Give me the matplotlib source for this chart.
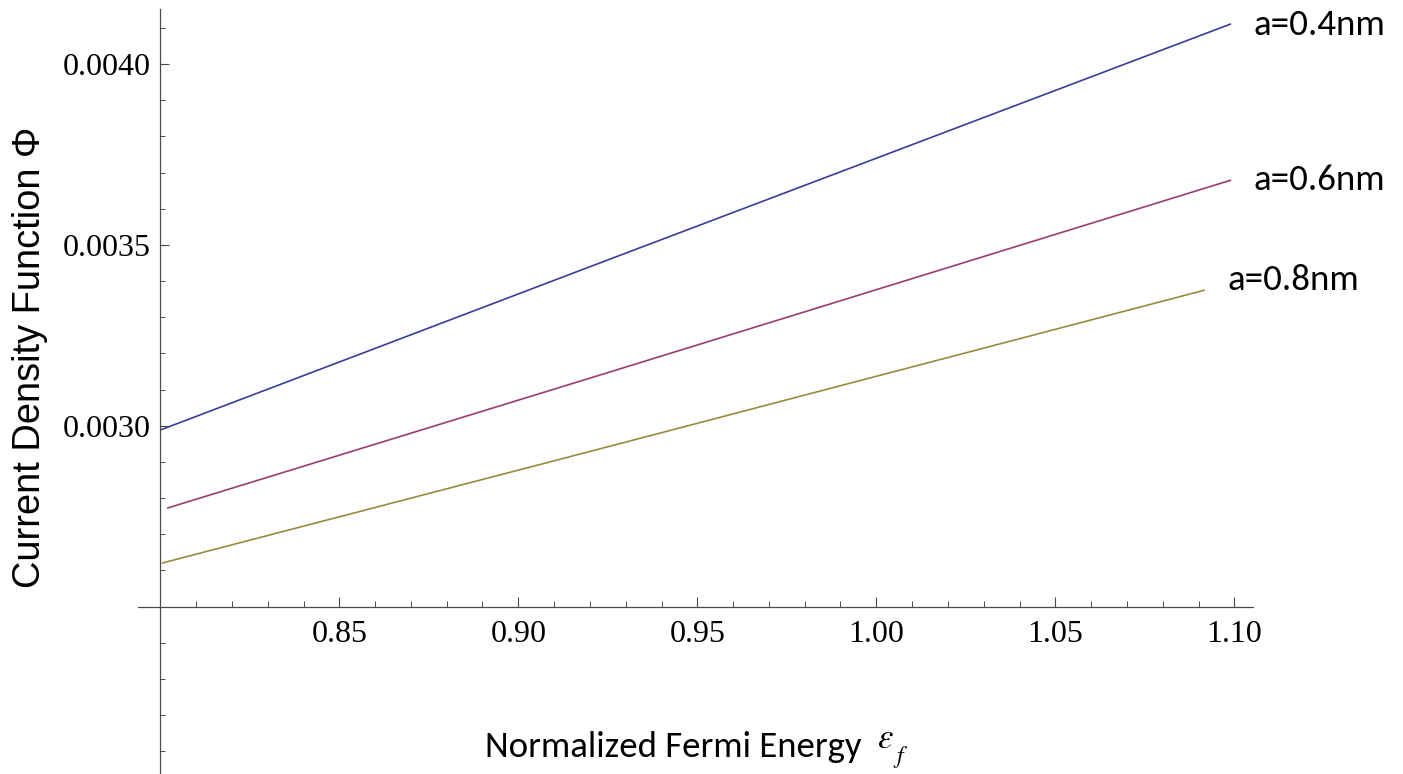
import matplotlib
matplotlib.use('Agg')
import matplotlib.pyplot as plt
from matplotlib.ticker import FixedLocator, MultipleLocator, FixedFormatter
from matplotlib import font_manager

W, H, DPI = 1403, 774, 100

# ---- data ----
x_a04 = [0.8000, 0.9228, 1.0991]
y_a04 = [0.002988, 0.003450, 0.004111]
x_a06 = [0.8019, 0.9228, 1.0991]
y_a06 = [0.002772, 0.003140, 0.003679]
x_a08 = [0.8004, 0.9228, 1.0918]
y_a08 = [0.002620, 0.002936, 0.003375]
series_labels = ['a=0.4nm', 'a=0.6nm', 'a=0.8nm']
x_major_ticks = [0.85, 0.90, 0.95, 1.00, 1.05, 1.10]
x_tick_labels = ['0.85', '0.90', '0.95', '1.00', '1.05', '1.10']
y_major_ticks = [0.0030, 0.0035, 0.0040]
y_tick_labels = ['0.0030', '0.0035', '0.0040']
x_label = 'Normalized Fermi Energy'
y_label = 'Current Density Function \u03a6'

colors = ['#3d3d99', '#993d71', '#998b3d']

available = {f.name for f in font_manager.fontManager.ttflist}
def pick(*names):
    return [n for n in names if n in available] + ['DejaVu Sans']

sans_calibri = pick('Carlito', 'Lato', 'Open Sans')
serif = pick('Liberation Serif', 'DejaVu Serif')
arial = pick('Liberation Sans', 'Noto Sans')
plt.rcParams['mathtext.fontset'] = 'stix'

fig = plt.figure(figsize=(W / DPI, H / DPI), dpi=DPI)
left_px, right_px, top_px, bottom_px = 138.3, 1252.7, 9.0, 774.0
ax = fig.add_axes([left_px / W, 1 - bottom_px / H,
                   (right_px - left_px) / W, (bottom_px - top_px) / H])
ax.patch.set_alpha(0)

xpx_per_unit = 3580.0
ypx_per_unit = 361700.0
x0_px, y0_px = 160.3, 425.7  # x=0.80, y=0.0030
ax.set_xlim(0.80 - (x0_px - left_px) / xpx_per_unit,
            0.80 + (right_px - x0_px) / xpx_per_unit)
ax.set_ylim(0.0030 - (bottom_px - y0_px) / ypx_per_unit,
            0.0030 + (y0_px - top_px) / ypx_per_unit)

for xs, ys, c in zip([x_a04, x_a06, x_a08], [y_a04, y_a06, y_a08], colors):
    ax.plot(xs, ys, color=c, lw=1.2, solid_capstyle='butt')

axis_color = '#4a4a4a'
for s in ['top', 'right']:
    ax.spines[s].set_visible(False)
ax.spines['left'].set_position(('data', 0.80))
ax.spines['bottom'].set_position(('data', 0.0025))
for s in ['left', 'bottom']:
    ax.spines[s].set_color(axis_color)
    ax.spines[s].set_linewidth(0.9)

ax.xaxis.set_major_locator(FixedLocator(x_major_ticks))
ax.xaxis.set_major_formatter(FixedFormatter(x_tick_labels))
ax.xaxis.set_minor_locator(MultipleLocator(0.01))
ax.yaxis.set_major_locator(FixedLocator(y_major_ticks))
ax.yaxis.set_major_formatter(FixedFormatter(y_tick_labels))
ax.yaxis.set_minor_locator(MultipleLocator(0.0001))

ax.tick_params(axis='x', which='major', direction='in', length=7.2, width=0.8,
               color=axis_color, pad=9.5, labelsize=23)
ax.tick_params(axis='x', which='minor', direction='in', length=4.3, width=0.7,
               color=axis_color)
ax.tick_params(axis='y', which='major', direction='in', length=6.5, width=0.8,
               color=axis_color, pad=7, labelsize=23)
ax.tick_params(axis='y', which='minor', direction='in', length=3.6, width=0.7,
               color=axis_color)
for lab in ax.get_xticklabels() + ax.get_yticklabels():
    lab.set_fontfamily(serif)

def fx(px):
    return px / W
def fy(py):
    return 1 - py / H

# axis labels
fig.text(fx(40), fy(357.5), y_label, rotation=90, rotation_mode='anchor',
         ha='center', va='baseline', fontsize=27.4, family=arial)
xl = fig.text(fx(485), fy(757), x_label, ha='left', va='baseline',
              fontsize=26, family=sans_calibri)
fig.text(fx(877), fy(748), r'$\varepsilon$', ha='left', va='baseline',
         fontsize=25)
fig.text(fx(893), fy(763), r'$f$', ha='left', va='baseline',
         fontsize=17)

# series labels at line ends
offsets = [(15.8, -7.9), (15.8, -7.2), (16.6, 0.0)]
ann = []
for xs, ys, lab, off in zip([x_a04, x_a06, x_a08], [y_a04, y_a06, y_a08],
                            series_labels, offsets):
    ann.append(ax.annotate(lab, xy=(xs[-1], ys[-1]), xytext=off,
                           textcoords='offset points', ha='left', va='baseline',
                           fontsize=26, family=sans_calibri,
                           annotation_clip=False))

def fit_width(t, target):
    fig.canvas.draw()
    r = fig.canvas.get_renderer()
    w = t.get_window_extent(r).width
    t.set_fontsize(t.get_fontsize() * target / w)

fit_width(xl, 377)
for a in ann:
    fit_width(a, 132)

fig.savefig('out.png', dpi=DPI)
